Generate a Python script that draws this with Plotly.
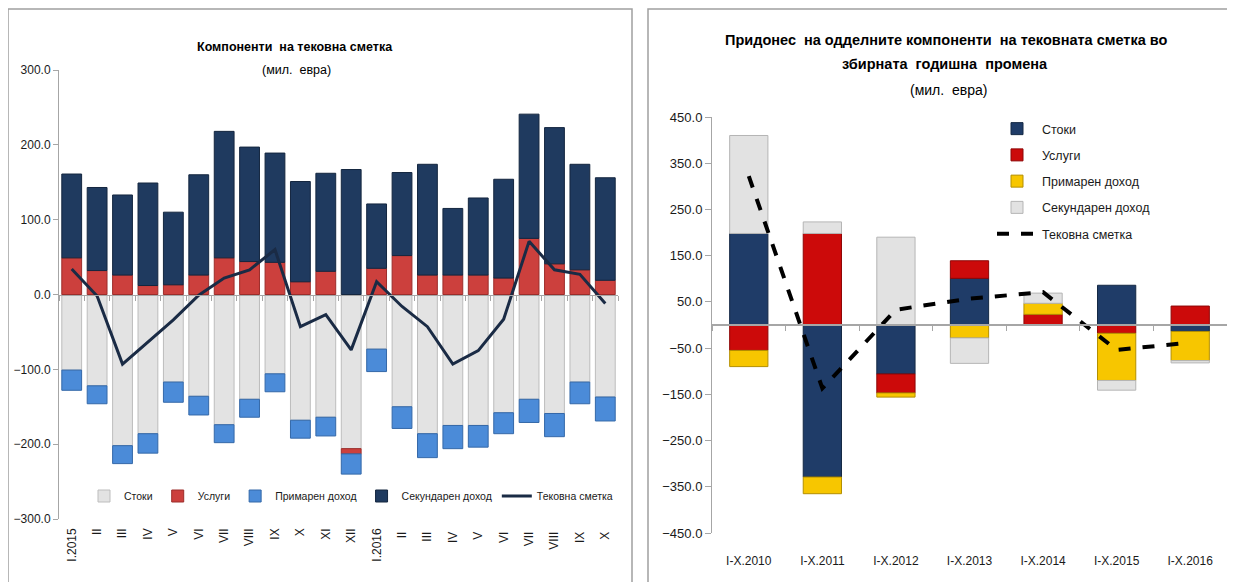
import plotly.graph_objects as go

W, H = 1235, 582
FONT = "Liberation Sans, Arial, sans-serif"
OFF = 8  # page body margin offset of the embedded figure

# ---------------- Left chart data (million EUR) ----------------
months = ["I.2015", "II", "III", "IV", "V", "VI", "VII", "VIII", "IX", "X", "XI", "XII",
          "I.2016", "II ", "III ", "IV ", "V ", "VI ", "VII ", "VIII ", "IX ", "X "]
goods_m = [-101, -122, -202, -186, -117, -136, -174, -140, -106, -168, -164, -206,
           -73, -150, -186, -175, -175, -158, -140, -159, -117, -137]
services_m = [49, 32, 26, 12, 13, 26, 49, 44, 43, 17, 31, -7,
              35, 52, 26, 26, 26, 22, 75, 41, 33, 19]
primary_m = [-27, -24, -24, -26, -27, -25, -24, -24, -24, -24, -25, -27,
             -30, -29, -32, -31, -29, -28, -31, -31, -29, -32]
secondary_m = [112, 111, 107, 137, 97, 134, 169, 153, 146, 134, 131, 167,
               86, 111, 148, 89, 103, 132, 166, 182, 141, 137]
current_m = [34, -2, -93, -63, -34, -1, 22, 33, 60, -43, -27, -74,
             17, -16, -43, -93, -75, -33, 71, 33, 27, -12]

# ---------------- Right chart data (million EUR) ----------------
periods = ["I-X.2010", "I-X.2011", "I-X.2012", "I-X.2013", "I-X.2014", "I-X.2015", "I-X.2016"]
goods_y = [198, -329, -106, 101, 0, 86, -14]
services_y = [-55, 198, -41, 38, 23, -18, 41]
primary_y = [-35, -36, -9, -28, 24, -102, -63]
secondary_y = [212, 25, 190, -55, 22, -21, -5]
current_y = [322, -137, 33, 57, 71, -54, -38]

names = ["Стоки", "Услуги", "Примарен доход", "Секундарен доход", "Тековна сметка"]


def px_x(p):
    return (p - OFF) / W


def px_y(p):
    return 1 - (p - OFF) / H


fig = go.Figure()

# Left chart traces
left_cols = ["#e3e3e3", "#cc403d", "#4b8bd8", "#1f3a5f"]
left_edges = ["#bdbdbd", "#9c2c2a", "#3468a8", "#14263f"]
for nm, vals, c, e in zip(names[:4], [goods_m, services_m, primary_m, secondary_m], left_cols, left_edges):
    fig.add_trace(go.Bar(x=months, y=vals, name=nm, marker=dict(color=c, line=dict(color=e, width=1)),
                         width=0.78, xaxis="x", yaxis="y", legend="legend"))
fig.add_trace(go.Scatter(x=months, y=current_m, name=names[4], mode="lines",
                         line=dict(color="#1a2b45", width=3), xaxis="x", yaxis="y", legend="legend"))

# Right chart traces
right_cols = ["#1f3c68", "#cc0a0a", "#f7c600", "#e2e2e2"]
right_edges = ["#142844", "#8e0606", "#b38f00", "#b5b5b5"]
right_vals = [goods_y, services_y, primary_y, secondary_y]
for i, (nm, vals, c, e) in enumerate(zip(names[:4], right_vals, right_cols, right_edges)):
    fig.add_trace(go.Bar(x=periods, y=vals, name=nm, marker=dict(color=c, line=dict(color=e, width=1)),
                         width=0.52, xaxis="x2", yaxis="y2", legend="legend2", legendgroup=f"g{i}"))
fig.add_trace(go.Scatter(x=periods, y=current_y, name=names[4], mode="lines",
                         line=dict(color="#000000", width=4, dash="dash"),
                         xaxis="x2", yaxis="y2", legend="legend2", legendgroup="g4"))

axis_col = "#a6a6a6"
txt = "#1a1a1a"

fig.update_layout(
    width=W, height=H,
    margin=dict(l=0, r=0, t=0, b=0, autoexpand=False),
    paper_bgcolor="white", plot_bgcolor="rgba(0,0,0,0)",
    barmode="relative",
    font=dict(family=FONT, color=txt),
    xaxis=dict(domain=[px_x(59), px_x(618)], anchor="free", position=px_y(294.5),
               type="category", range=[-0.5, 21.5], showgrid=False, automargin=False,
               showline=True, linecolor=axis_col, linewidth=1,
               ticks="outside", tickson="boundaries", ticklen=5, tickcolor=axis_col,
               tickangle=-90, ticklabelstandoff=228, tickfont=dict(family=FONT, size=12, color=txt)),
    yaxis=dict(domain=[px_y(519), px_y(70)], anchor="x", range=[-300, 300], dtick=100,
               tickformat=".1f", showgrid=False, zeroline=False, automargin=False,
               showline=True, linecolor=axis_col, ticks="outside", ticklen=5, tickcolor=axis_col,
               tickfont=dict(family=FONT, size=12, color=txt)),
    xaxis2=dict(domain=[px_x(712), px_x(1227)], anchor="free", position=px_y(324.5),
                type="category", range=[-0.5, 6.5], showgrid=False, automargin=False,
                showline=True, linecolor=axis_col, linewidth=1.5,
                ticks="outside", tickson="boundaries", ticklen=6, tickcolor=axis_col,
                ticklabelstandoff=225, tickfont=dict(family=FONT, size=12, color=txt)),
    yaxis2=dict(domain=[px_y(533), px_y(117)], anchor="x2", range=[-450, 450],
                tickvals=[-450, -350, -250, -150, -50, 50, 150, 250, 350, 450],
                tickformat=".1f", showgrid=False, zeroline=False, automargin=False,
                showline=True, linecolor=axis_col, ticks="outside", ticklen=6, tickcolor=axis_col,
                tickfont=dict(family=FONT, size=13, color=txt)),
    legend=dict(orientation="h", x=px_x(84), y=px_y(496), xanchor="left", yanchor="middle",
                traceorder="normal", bgcolor="rgba(0,0,0,0)",
                font=dict(family=FONT, size=10.5, color=txt), itemwidth=30),
    legend2=dict(orientation="v", x=px_x(992), y=px_y(114), xanchor="left", yanchor="top",
                 traceorder="grouped", tracegroupgap=7, bgcolor="rgba(0,0,0,0)",
                 font=dict(family=FONT, size=12.5, color=txt), itemwidth=40),
    showlegend=True,
)

# Frames around each panel
fig.add_shape(type="rect", xref="paper", yref="paper", x0=px_x(8), x1=px_x(632), y0=px_y(620), y1=px_y(9),
              line=dict(color="#a0a0a0", width=1.5), fillcolor="rgba(0,0,0,0)", layer="below")
fig.add_shape(type="rect", xref="paper", yref="paper", x0=px_x(648), x1=px_x(1270), y0=px_y(620), y1=px_y(9),
              line=dict(color="#a0a0a0", width=1.5), fillcolor="rgba(0,0,0,0)", layer="below")

# Titles
def title(text, x, y, size):
    fig.add_annotation(xref="paper", yref="paper", x=px_x(x), y=px_y(y), xanchor="center", yanchor="middle",
                       showarrow=False, text=text, font=dict(family=FONT, size=size, color="#000"))

title("<b>Компоненти  на тековна сметка</b>", 295, 47, 12.5)
title("(мил.  евра)", 296, 70, 12.5)
title("<b>Придонес  на одделните компоненти  на тековната сметка во</b>", 946, 40, 14.5)
title("<b>збирната  годишна  промена</b>", 945, 64, 14.5)
title("(мил.  евра)", 948, 90, 14)

fig.write_html("out.html")
